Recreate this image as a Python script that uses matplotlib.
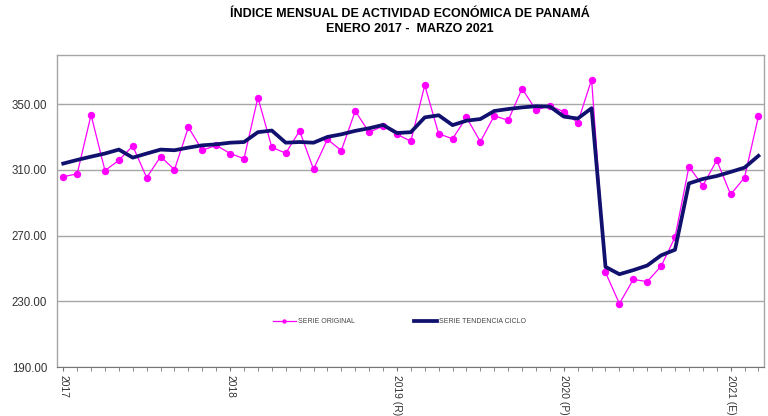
import matplotlib
matplotlib.use("Agg")
import matplotlib.pyplot as plt

# Data: Jan 2017 .. Mar 2021 (51 months)
serie_original = [
    305.9, 307.6, 343.5, 309.6, 315.9, 324.6, 305.3, 318.1, 310.2, 336.0, 322.0, 325.0,
    320.0, 316.9, 354.1, 323.8, 320.2, 333.8, 310.4, 328.7, 321.8, 345.9, 332.9, 336.8,
    331.7, 327.5, 361.6, 332.0, 329.0, 342.0, 327.2, 343.0, 340.2, 359.5, 346.5, 349.0,
    345.5, 338.8, 365.0, 247.6, 228.6, 243.3, 242.0, 251.4, 269.0, 312.0, 300.4, 315.9,
    295.1, 305.3, 342.7,
]
serie_tendencia = [
    313.9, 316.1, 318.1, 320.0, 322.4, 317.5, 320.0, 322.4, 322.0, 323.6, 325.0, 325.6,
    326.6, 327.0, 333.0, 334.0, 326.6, 327.0, 326.6, 330.1, 331.7, 333.8, 335.4, 337.4,
    332.5, 333.0, 342.0, 343.3, 337.3, 340.0, 341.0, 345.9, 347.1, 348.1, 348.8, 348.6,
    342.5, 341.3, 347.6, 251.0, 246.5, 249.0, 251.8, 258.0, 261.4, 301.8, 304.5, 306.3,
    308.8, 311.4, 318.6,
]
year_tick_idx = [0, 12, 24, 36, 48]
year_labels = ["2017", "2018", "2019 (R)", "2020 (P)", "2021 (E)"]
y_ticks = [190, 230, 270, 310, 350]

plt.rcParams['font.family'] = ['Liberation Sans', 'DejaVu Sans']

fig = plt.figure(figsize=(7.68, 4.16), dpi=100)
ax = fig.add_axes([57/768, 49/416, 707/768, 312/416])

x = list(range(len(serie_original)))
grid_c = "#A6A6A6"

ax.plot(x, serie_original, color="#FF00FF", lw=0.9, marker="o", ms=4.3,
        label="SERIE ORIGINAL", zorder=3)
ax.plot(x, serie_tendencia, color="#10106E", lw=2.7, label="SERIE TENDENCIA CICLO",
        zorder=4)

ax.set_xlim(-0.45, 50.4)
ax.set_ylim(190, 380)
ax.set_yticks(y_ticks)
ax.set_yticklabels([f"{v:.2f}" for v in y_ticks], fontsize=8.3, color="#333333")
ax.yaxis.grid(True, color=grid_c, lw=1.0)
ax.set_axisbelow(True)
ax.tick_params(axis="y", length=0, pad=7)

ax.set_xticks(year_tick_idx)
ax.set_xticklabels(year_labels, rotation=-90, fontsize=7.4, color="#333333")
ax.set_xticks(x, minor=True)
ax.tick_params(axis="x", which="both", direction="out", length=3, color="#777777", pad=2.5)

for s in ["top", "right", "left"]:
    ax.spines[s].set_color(grid_c)
    ax.spines[s].set_linewidth(1.0)
ax.spines["bottom"].set_color("#777777")

leg = ax.legend(loc="center", bbox_to_anchor=(0.485, 0.145), ncol=2, frameon=False,
                fontsize=5, handlelength=3.2, handletextpad=0.4, columnspacing=8.5,
                markerscale=0.5, labelcolor="#444444")

fig.text(0.534, 0.966, "ÍNDICE MENSUAL DE ACTIVIDAD ECONÓMICA DE PANAMÁ",
         ha="center", va="center", fontsize=9, fontweight="bold")
fig.text(0.534, 0.930, "ENERO 2017 -  MARZO 2021",
         ha="center", va="center", fontsize=9, fontweight="bold")

fig.savefig("out.png", dpi=100)
